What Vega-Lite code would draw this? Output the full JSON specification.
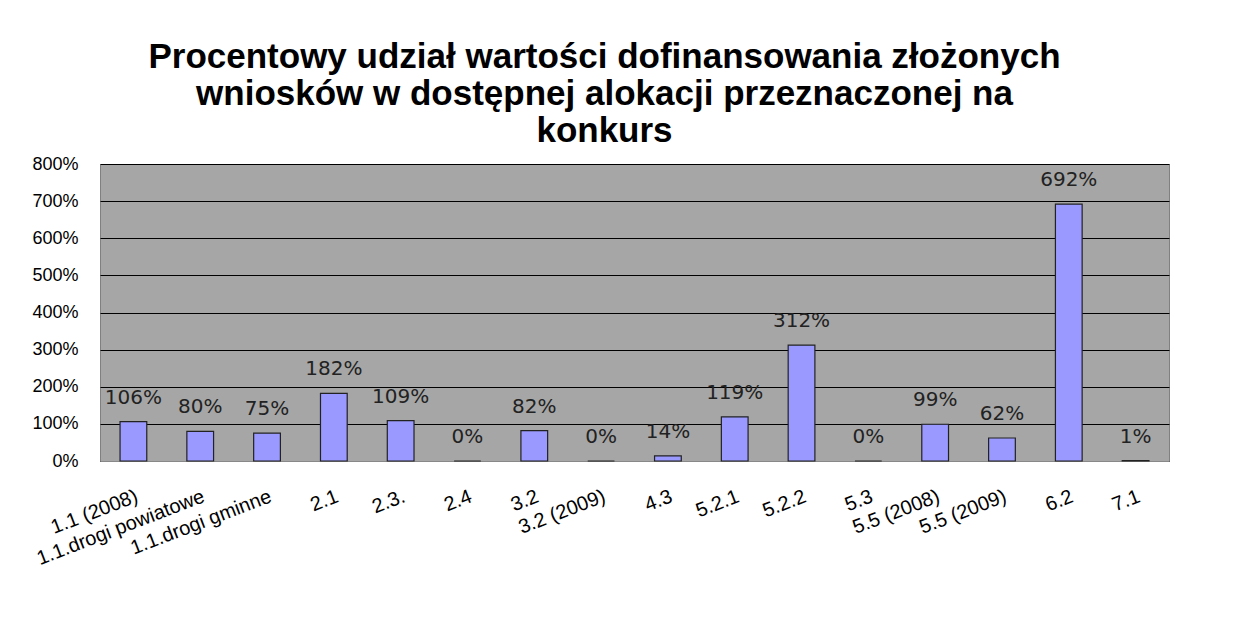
{
  "$schema": "https://vega.github.io/schema/vega-lite/v6.json",
  "autosize": {"type": "none"},
  "padding": {"left": 100, "top": 164, "right": 86, "bottom": 166},
  "width": 1069,
  "height": 297,
  "background": "white",
  "title": {
    "text": ["Procentowy udział wartości dofinansowania złożonych", "wniosków w dostępnej alokacji przeznaczonej na", "konkurs"],
    "font": "Liberation Sans",
    "fontSize": 35,
    "fontWeight": "bold",
    "color": "black",
    "lineHeight": 37,
    "anchor": "middle",
    "dx": -30,
    "offset": 6
  },
  "data": {
    "values": [
      {"kategoria": "1.1 (2008)", "udzial": 1.06},
      {"kategoria": "1.1.drogi powiatowe", "udzial": 0.80},
      {"kategoria": "1.1.drogi gminne", "udzial": 0.75},
      {"kategoria": "2.1", "udzial": 1.82},
      {"kategoria": "2.3.", "udzial": 1.09},
      {"kategoria": "2.4", "udzial": 0.0},
      {"kategoria": "3.2", "udzial": 0.82},
      {"kategoria": "3.2 (2009)", "udzial": 0.0},
      {"kategoria": "4.3", "udzial": 0.14},
      {"kategoria": "5.2.1", "udzial": 1.19},
      {"kategoria": "5.2.2", "udzial": 3.12},
      {"kategoria": "5.3", "udzial": 0.0},
      {"kategoria": "5.5 (2008)", "udzial": 0.99},
      {"kategoria": "5.5 (2009)", "udzial": 0.62},
      {"kategoria": "6.2", "udzial": 6.92},
      {"kategoria": "7.1", "udzial": 0.01}
    ]
  },
  "encoding": {
    "x": {
      "field": "kategoria",
      "type": "nominal",
      "sort": null,
      "scale": {"paddingInner": 0.6, "paddingOuter": 0.3},
      "axis": {
        "title": null,
        "labelAngle": -21,
        "labelAlign": "right",
        "labelBaseline": "top",
        "labelPadding": 25,
        "labelFont": "Liberation Sans",
        "labelFontSize": 20,
        "labelColor": "black",
        "ticks": false,
        "domainColor": "#888888",
        "grid": false,
        "labelOverlap": false,
        "labelBound": false
      }
    },
    "y": {
      "field": "udzial",
      "type": "quantitative",
      "scale": {"domain": [0, 8], "nice": false},
      "axis": {
        "title": null,
        "format": ".0%",
        "values": [0, 1, 2, 3, 4, 5, 6, 7, 8],
        "labelFont": "Liberation Sans",
        "labelFontSize": 18,
        "labelColor": "black",
        "labelPadding": 22,
        "ticks": false,
        "domain": false,
        "grid": true,
        "gridColor": "black",
        "gridWidth": 1,
        "gridOpacity": 1
      }
    }
  },
  "layer": [
    {
      "mark": {"type": "bar", "color": "#9999FF", "stroke": "#222222", "strokeWidth": 1.2}
    },
    {
      "mark": {"type": "text", "baseline": "middle", "dy": -24, "font": "DejaVu Sans", "fontSize": 20, "color": "#222222"},
      "encoding": {
        "text": {"field": "udzial", "type": "quantitative", "format": ".0%"}
      }
    }
  ],
  "config": {
    "view": {"fill": "#A6A6A6", "stroke": "#808080", "strokeWidth": 1}
  }
}
